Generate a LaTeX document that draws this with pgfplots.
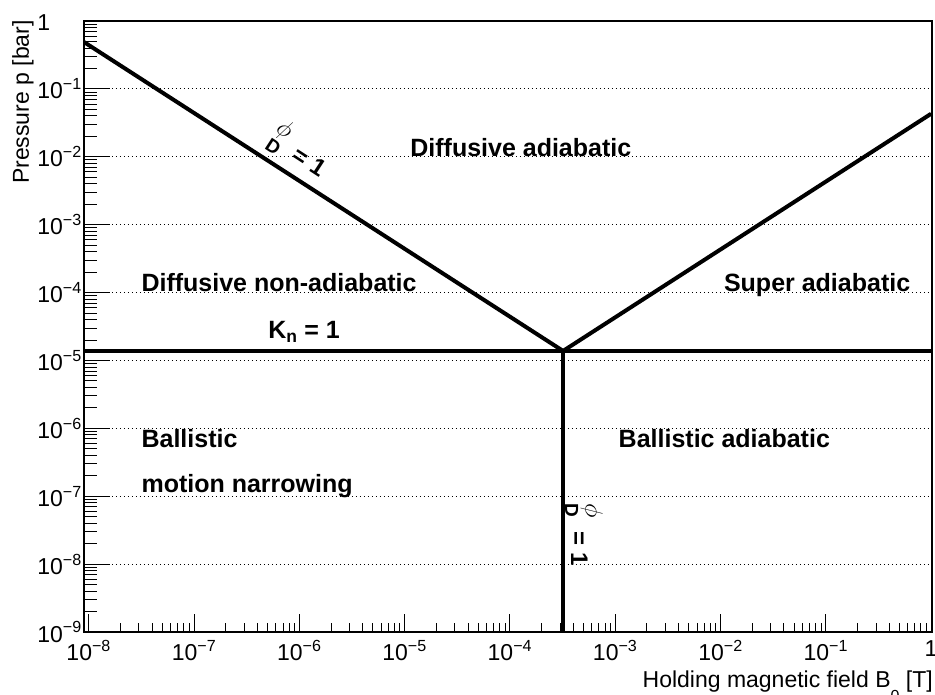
\documentclass[border=0pt]{standalone}
\usepackage{fontspec}
\setmainfont{Liberation Sans}
\usepackage{pgfplots}
\pgfplotsset{compat=1.18}
\newcommand{\sps}[1]{\textsuperscript{#1}}
\newcommand{\phiD}{\rlap{\raisebox{0.6em}{$\phi$}}\raisebox{-0.25em}{\fontsize{19}{21}\selectfont D}\hspace{0.6em}= 1}
\begin{document}
\begin{tikzpicture}
\useasboundingbox (-84pt,-63pt) rectangle (851pt,632pt);
\begin{axis}[
  at={(0,0)}, anchor=south west,
  scale only axis, width=848pt, height=611pt,
  xmode=log, ymode=log,
  xmin=9.02e-9, xmax=1.02, ymin=1e-9, ymax=1,
  xtick={1e-8,1e-7,1e-6,1e-5,1e-4,1e-3,1e-2,1e-1,1},
  xticklabels={10\sps{−8},10\sps{−7},10\sps{−6},10\sps{−5},10\sps{−4},10\sps{−3},10\sps{−2},10\sps{−1},1},
  ytick={1e-9,1e-8,1e-7,1e-6,1e-5,1e-4,1e-3,1e-2,1e-1,1},
  yticklabels={10\sps{−9},10\sps{−8},10\sps{−7},10\sps{−6},10\sps{−5},10\sps{−4},10\sps{−3},10\sps{−2},10\sps{−1},1\phantom{0\sps{−1}}},
  tick align=inside,
  xtick pos=left, ytick pos=left,
  xtick style={black, line width=0.9pt, /pgfplots/major tick length=18pt, /pgfplots/minor tick length=9pt},
  ytick style={black, line width=0.9pt, /pgfplots/major tick length=26pt, /pgfplots/minor tick length=13pt},
  xticklabel style={font=\fontsize{23}{26}\selectfont, inner sep=2pt, yshift=-6pt},
  yticklabel style={font=\fontsize{23}{26}\selectfont, inner sep=2pt, xshift=0pt},
  ymajorgrids,
  major grid style={black, line width=1pt, dash pattern=on 1.2pt off 2.8pt},
  axis line style={black, line width=1.2pt},
  clip mode=individual,
]
\addplot[black, line width=4pt] coordinates {(8.5e-9,0.52) (3.2e-4,1.38e-5)};
\addplot[black, line width=4pt] coordinates {(3.2e-4,1.38e-5) (1.0,0.043)};
\addplot[black, line width=4pt] coordinates {(8.5e-9,1.38e-5) (1.02,1.38e-5)};
\addplot[black, line width=4pt] coordinates {(3.2e-4,1.38e-5) (3.2e-4,1e-9)};

\node[anchor=base west, font=\fontsize{25}{28}\selectfont\bfseries] at (axis cs:1.05e-5,1e-2) {Diffusive adiabatic};
\node[anchor=base west, font=\fontsize{25}{28}\selectfont\bfseries] at (axis cs:2.94e-8,1.02e-4) {Diffusive non-adiabatic};
\node[anchor=base west, font=\fontsize{25}{28}\selectfont\bfseries] at (axis cs:1.0e-2,1.02e-4) {Super adiabatic};
\node[anchor=base west, font=\fontsize{25}{28}\selectfont\bfseries] at (axis cs:2.94e-8,5.3e-7) {Ballistic};
\node[anchor=base west, font=\fontsize{25}{28}\selectfont\bfseries] at (axis cs:2.94e-8,1.12e-7) {motion narrowing};
\node[anchor=base west, font=\fontsize{25}{28}\selectfont\bfseries] at (axis cs:1.0e-3,5.3e-7) {Ballistic adiabatic};
\node[anchor=base west, font=\fontsize{25}{28}\selectfont\bfseries, inner sep=0pt] at (axis cs:5.05e-7,2.07e-5) {K\textsubscript{n} = 1};
\node[anchor=center, rotate=-33, font=\fontsize{24}{27}\selectfont\bfseries, inner sep=0pt] at (axis cs:1.02e-6,1.26e-2) {\phiD};
\node[anchor=center, rotate=-90, font=\fontsize{24}{27}\selectfont\bfseries, inner sep=0pt] at (axis cs:5.06e-4,2.69e-8) {\phiD};
\end{axis}
\node[rotate=90, anchor=base east, inner sep=0pt, font=\fontsize{23}{26}\selectfont] at (-55pt,612pt) {Pressure p [bar]};
\node[anchor=base east, inner sep=0pt, font=\fontsize{23}{26}\selectfont] at (849pt,-56pt) {Holding magnetic field B\raisebox{-0.6em}{\fontsize{16}{18}\selectfont 0} [T]};
\end{tikzpicture}
\end{document}
